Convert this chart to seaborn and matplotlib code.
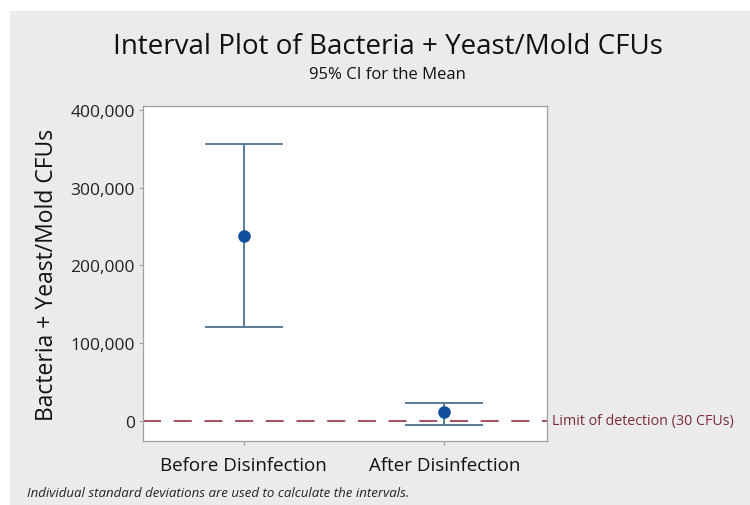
import numpy as np
import pandas as pd
import matplotlib.pyplot as plt
import seaborn as sns
from matplotlib.patches import Rectangle

categories = ["Before Disinfection", "After Disinfection"]
means = [238000, 11500]
lower = [121000, -5000]
upper = [356000, 23000]
detection_limit = 30
y_ticks = [0, 100000, 200000, 300000, 400000]

df = pd.DataFrame({"group": categories, "mean": means, "lower": lower, "upper": upper})

sns.set_style("white")
plt.rcParams["font.family"] = ["Open Sans", "DejaVu Sans"]

fig = plt.figure(figsize=(7.5, 5.06), dpi=100, facecolor="#ebebeb")
# white border at top and left like the screenshot
fig.patches.append(Rectangle((0, 0.976), 1, 0.024, transform=fig.transFigure,
                             facecolor="white", edgecolor="none", zorder=-1))
fig.patches.append(Rectangle((0, 0), 0.013, 1, transform=fig.transFigure,
                             facecolor="white", edgecolor="none", zorder=-1))
ax = fig.add_axes([0.1907, 0.1265, 0.5386, 0.662])

pos = np.arange(len(categories))
ax.errorbar(pos, df["mean"],
            yerr=[df["mean"] - df["lower"], df["upper"] - df["mean"]],
            fmt="none", ecolor="#4d7290", elinewidth=1.3, capsize=28, capthick=1.3,
            zorder=2)
sns.pointplot(data=df, x="group", y="mean", linestyle="none", color="#0f4f9c",
              markersize=7, ax=ax, zorder=3)

ax.axhline(detection_limit, color="#a0404f", linestyle=(0, (10, 7)), linewidth=1.3,
           zorder=1)
ax.text(1.012, detection_limit, "Limit of detection (30 CFUs)", color="#7f2a3a",
        fontsize=10.3, va="center", ha="left", transform=ax.get_yaxis_transform())

ax.set_xlim(-0.5, 1.51)
ax.set_ylim(-26000, 405000)
ax.set_yticks(y_ticks)
ax.set_yticklabels([f"{v:,}" for v in y_ticks])
ax.set_xlabel("")
ax.set_ylabel("Bacteria + Yeast/Mold CFUs", fontsize=16.5, color="#111111", labelpad=8)
ax.tick_params(axis="both", labelsize=12.5, labelcolor="#222222", length=3,
               color="#a0a0a0", direction="out", left=True, bottom=True, pad=3)
ax.tick_params(axis="x", labelsize=13.5, labelcolor="#111111", pad=8)
for s in ax.spines.values():
    s.set_color("#a0a0a0")
    s.set_linewidth(0.9)

fig.text(0.517, 0.907, "Interval Plot of Bacteria + Yeast/Mold CFUs",
         ha="center", va="center", fontsize=20, color="#111111")
fig.text(0.517, 0.851, "95% CI for the Mean", ha="center", va="center", fontsize=12,
         color="#111111")
fig.text(0.036, 0.024, "Individual standard deviations are used to calculate the intervals.",
         ha="left", va="center", fontsize=9.5, style="italic", color="#222222")

fig.savefig("out.png", dpi=100, facecolor=fig.get_facecolor())
